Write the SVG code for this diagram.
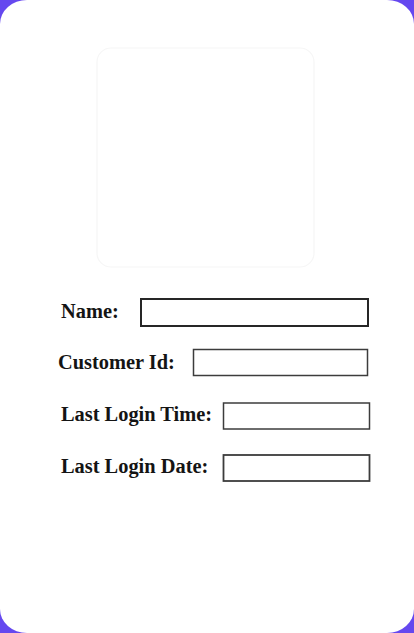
<svg xmlns="http://www.w3.org/2000/svg" width="414" height="633" viewBox="0 0 414 633">
  <style>
    .lbl { font-family: "Liberation Serif", "Times New Roman", serif; font-weight: bold; font-size: 20.4px; fill: #141414; }
    .field { fill: #ffffff; stroke: #3c3c3c; stroke-width: 1.5; }
  </style>
  <rect x="0" y="0" width="414" height="633" fill="#6548ef"/>
  <rect x="0" y="0" width="414" height="633" rx="27" ry="24" fill="#ffffff"/>
  <g id="photo-placeholder">
    <rect x="97" y="48" width="217" height="219" rx="14" fill="none" stroke="#f6f6f6" stroke-width="1.2"/>
  </g>
  <g id="name">
    <text class="lbl" x="61" y="318">Name:</text>
    <rect class="field" x="141" y="299" width="227" height="27" style="stroke:#262626;stroke-width:2"/>
  </g>
  <g id="customer-id">
    <text class="lbl" x="58" y="369">Customer Id:</text>
    <rect class="field" x="193.5" y="349.5" width="174" height="26"/>
  </g>
  <g id="last-login-time">
    <text class="lbl" x="61" y="421">Last Login Time:</text>
    <rect class="field" x="223.5" y="403" width="146" height="26"/>
  </g>
  <g id="last-login-date">
    <text class="lbl" x="61" y="473">Last Login Date:</text>
    <rect class="field" x="223.5" y="455" width="146" height="26" style="stroke-width:1.8"/>
  </g>
  <g id="connectors"></g>
</svg>
